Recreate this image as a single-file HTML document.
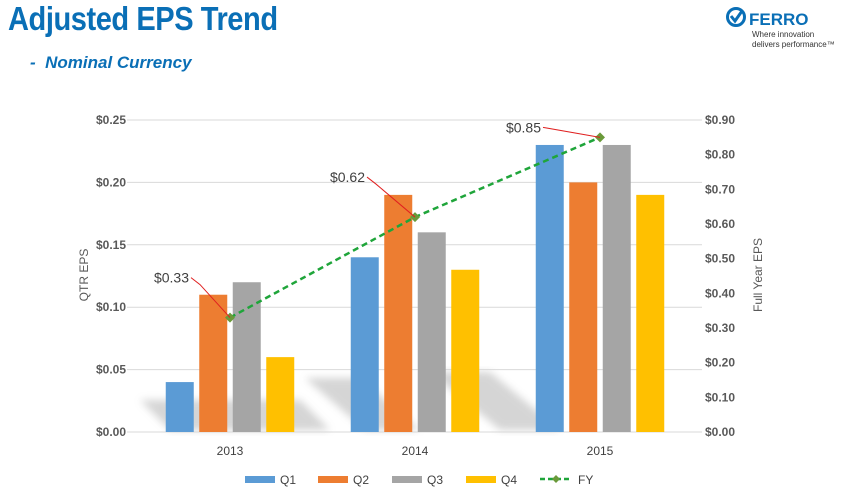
<!DOCTYPE html>
<html><head><meta charset="utf-8"><style>
body{margin:0;width:853px;height:503px;background:#fff;overflow:hidden;font-family:"Liberation Sans",sans-serif;position:relative}
#title{position:absolute;left:8px;top:0px;font-size:33px;font-weight:bold;color:#0a6fb6;letter-spacing:-0.5px;transform:scaleX(0.88);transform-origin:left}
#sub{position:absolute;left:30px;top:53px;font-size:17px;font-style:italic;font-weight:bold;color:#0a6fb6}
#logo{position:absolute;left:725px;top:6px;color:#0a6fb6}
</style></head><body>
<div id="title">Adjusted EPS Trend</div>
<div id="sub">-&nbsp; Nominal Currency</div>
<div id="logo">
<svg width="120" height="45"><circle cx="11" cy="11" r="8.5" fill="none" stroke="#0a6fb6" stroke-width="3"/><path d="M6 10 L10 15 L17 5" fill="none" stroke="#0a6fb6" stroke-width="3"/>
<text x="24" y="19" font-size="17" font-weight="bold" fill="#0a6fb6" font-family="Liberation Sans">FERRO</text>
<text x="27" y="31" font-size="8" fill="#333" font-family="Liberation Sans">Where innovation</text>
<text x="27" y="41" font-size="8" fill="#333" font-family="Liberation Sans">delivers performance™</text></svg></div>
<svg id="chart" width="853" height="503" style="position:absolute;left:0;top:0">
<defs><filter id="bl"><feGaussianBlur stdDeviation="4"/></filter></defs>
<g id="shadows" opacity="0.35" filter="url(#bl)">
<path d="M140 400 L300 400 L330 430 L170 430Z" fill="#888"/>
<path d="M305 378 L360 378 L420 430 L365 430Z" fill="#888"/>
<path d="M430 372 L490 372 L560 430 L500 430Z" fill="#888"/>
</g>
<g id="grid"></g><g id="bars"></g><g id="fy"></g><g id="labels"></g><g id="legend"></g>
</svg>
<script>
const categories=["2013","2014","2015"];
const seriesNames=["Q1","Q2","Q3","Q4"];
const q1=[0.04,0.14,0.23];
const q2=[0.11,0.19,0.20];
const q3=[0.12,0.16,0.23];
const q4=[0.06,0.13,0.19];
const fy=[0.33,0.62,0.85];
const leftTicks=[0,0.05,0.10,0.15,0.20,0.25];
const rightTicks=[0,0.1,0.2,0.3,0.4,0.5,0.6,0.7,0.8,0.9];
const colors=["#5b9bd5","#ed7d31","#a5a5a5","#ffc000"];
const NS="http://www.w3.org/2000/svg";
const yTop=120,yBot=432,x0=137,x1=692;
const yL=v=>yBot-v/0.25*(yBot-yTop);
const yR=v=>yBot-v/0.9*(yBot-yTop);
const xC=i=>230+i*185;
function mk(tag,attrs,parent,txt){const e=document.createElementNS(NS,tag);for(const k in attrs)e.setAttribute(k,attrs[k]);if(txt!=null)e.textContent=txt;document.getElementById(parent).appendChild(e);return e;}
leftTicks.forEach(v=>{
 const l=mk("line",{x1:x0-10,x2:x1+10,y1:yL(v),y2:yL(v),stroke:"#d9d9d9"},"grid");
 
 
 const t=mk("text",{x:126,y:yL(v)+4,"text-anchor":"end","font-size":12,"font-weight":"bold",fill:"#595959"},"grid","$"+v.toFixed(2));
 
 
});
rightTicks.forEach(v=>{
 const t=mk("text",{x:705,y:yR(v)+4,"font-size":12,"font-weight":"bold",fill:"#595959"},"grid","$"+v.toFixed(2));
 
 
});
const a1=mk("text",{x:0,y:0,transform:"translate(88,275) rotate(-90)","text-anchor":"middle","font-size":12,fill:"#595959"},"grid","QTR EPS");


const a2=mk("text",{x:0,y:0,transform:"translate(762,275) rotate(-90)","text-anchor":"middle","font-size":12,fill:"#595959"},"grid","Full Year EPS");


const series=[q1,q2,q3,q4];
categories.forEach((c,i)=>{
 const t=mk("text",{x:xC(i),y:455,"text-anchor":"middle","font-size":12,fill:"#404040"},"labels",c);
 
 
 series.forEach((s,j)=>{
  const cx=xC(i)+(j-1.5)*33.5;
  const r=mk("rect",{x:cx-14,y:yL(s[i]),width:28,height:yBot-yL(s[i]),fill:colors[j]},"bars");
  
  
 });
});
const pts=fy.map((v,i)=>xC(i)+","+yR(v)).join(" ");
const pl=mk("polyline",{points:pts,fill:"none",stroke:"#1fa53a","stroke-width":2.5,"stroke-dasharray":"6,4"},"fy");


fy.forEach((v,i)=>{
 const x=xC(i),y=yR(v);
 const m=mk("polygon",{points:`${x},${y-5} ${x+5},${y} ${x},${y+5} ${x-5},${y}`,fill:"#6a9a3a"},"fy");
 
 
 const lx=[167,343,519][i], ly=y-[40,40,10][i];
 const ln=mk("polyline",{points:i<2?`${lx+24},${ly} ${lx+33},${ly+7} ${x},${y}`:`${lx+24},${ly} ${x},${y}`,fill:"none",stroke:"#e02020","stroke-width":1},"labels");
 
 
 const t=mk("text",{x:lx+22,y:ly+5,"text-anchor":"end","font-size":14,fill:"#404040"},"labels","$"+v.toFixed(2));
 
 
});
const legX=[245,318,392,466];
seriesNames.forEach((n,j)=>{
 const r=mk("rect",{x:legX[j],y:476,width:30,height:7,fill:colors[j]},"legend");
 
 
 const t=mk("text",{x:legX[j]+35,y:484,"font-size":12,fill:"#404040"},"legend",n);
 
 
});
const fl=mk("line",{x1:540,x2:572,y1:479,y2:479,stroke:"#1fa53a","stroke-width":2.5,"stroke-dasharray":"5,3"},"legend");


const fm=mk("polygon",{points:"556,475 560,479 556,483 552,479",fill:"#6a9a3a"},"legend");


const ft=mk("text",{x:578,y:484,"font-size":12,fill:"#404040"},"legend","FY");


</script>
</body></html>
